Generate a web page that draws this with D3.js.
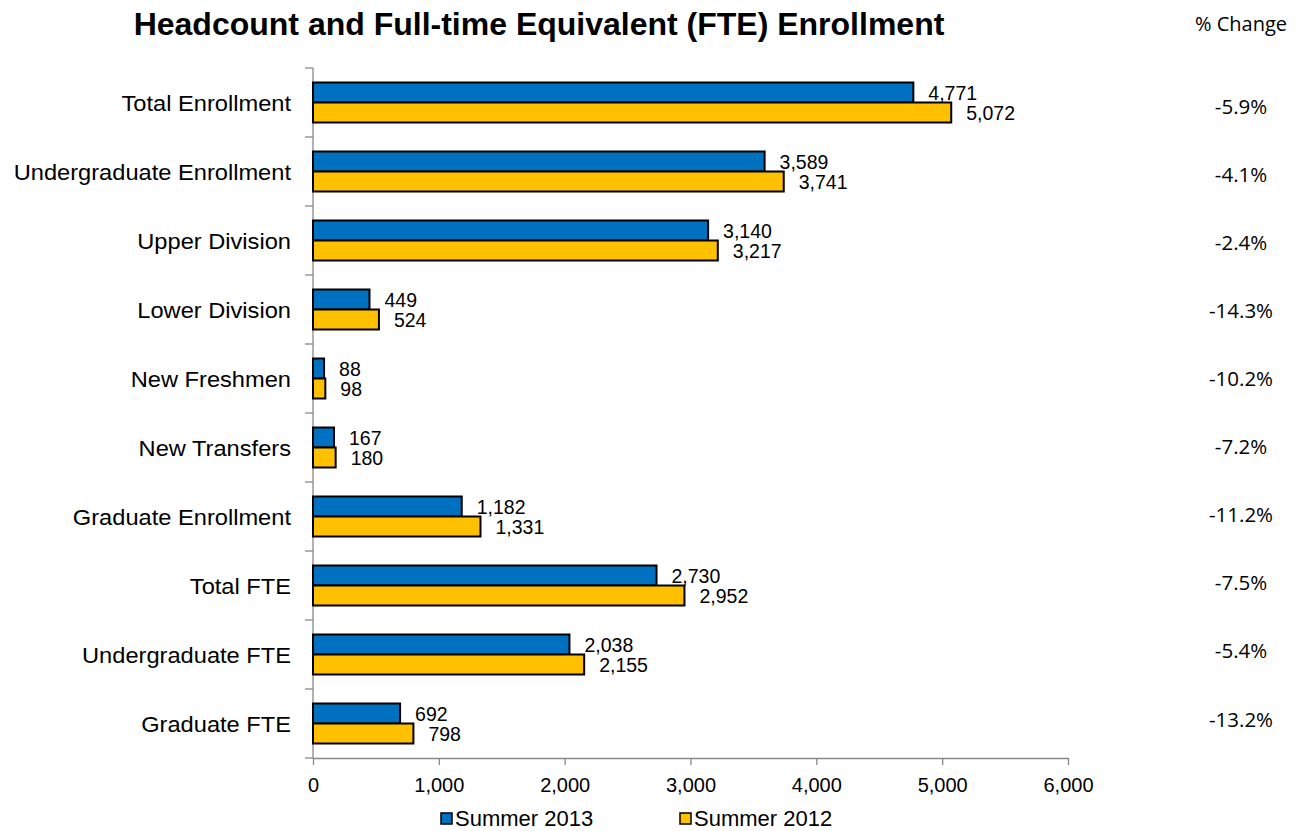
<!DOCTYPE html>
<html>
<head>
<meta charset="utf-8">
<script src="https://cdn.jsdelivr.net/npm/d3@7"></script>
<style>
  body { margin: 0; background: #fff; }
  text { font-family: "Liberation Sans", Arial, sans-serif; fill: #000; }
  .calibri { font-family: "Open Sans", "Noto Sans", sans-serif; }
</style>
</head>
<body>
<svg id="screen" width="1302" height="831"></svg>
<script>
const categories = ["Total Enrollment", "Undergraduate Enrollment", "Upper Division", "Lower Division",
  "New Freshmen", "New Transfers", "Graduate Enrollment", "Total FTE", "Undergraduate FTE", "Graduate FTE"];
const summer2013 = [4771, 3589, 3140, 449, 88, 167, 1182, 2730, 2038, 692];
const summer2012 = [5072, 3741, 3217, 524, 98, 180, 1331, 2952, 2155, 798];
const pctChange = ["-5.9%", "-4.1%", "-2.4%", "-14.3%", "-10.2%", "-7.2%", "-11.2%", "-7.5%", "-5.4%", "-13.2%"];
const xTicks = [0, 1000, 2000, 3000, 4000, 5000, 6000];
const seriesNames = ["Summer 2013", "Summer 2012"];
const colors = ["#0070C0", "#FFC000"];

const svg = d3.select("#screen");
const fmt = d3.format(",");

const x = d3.scaleLinear().domain([0, 6000]).range([313, 1068]);
const y = d3.scaleBand().domain(categories).range([68, 758]);
const inner = d3.scaleBand().domain([0, 1]).range([0, 40]);
const pad = (y.bandwidth() - 40) / 2;
// the % column sits on its own slightly tighter grid
const yPct = d3.scalePoint().domain(categories).range([106, 719]);

// title
svg.append("text").text("Headcount and Full-time Equivalent (FTE) Enrollment")
  .attr("x", 539).attr("y", 35).attr("text-anchor", "middle")
  .attr("font-size", 32).attr("font-weight", "bold");

svg.append("text").text("% Change").attr("class", "calibri")
  .attr("x", 1287).attr("y", 31).attr("text-anchor", "end").attr("font-size", 20);

// y axis line + ticks
svg.append("line").attr("x1", 313).attr("x2", 313).attr("y1", 68).attr("y2", 758)
  .attr("stroke", "#888").attr("stroke-width", 1.3);
svg.selectAll(".ytick").data(d3.range(categories.length + 1)).enter().append("line")
  .attr("x1", 305).attr("x2", 313)
  .attr("y1", i => 68 + i * y.bandwidth()).attr("y2", i => 68 + i * y.bandwidth())
  .attr("stroke", "#888").attr("stroke-width", 1.3);

// x axis
const xAxis = svg.append("g").attr("transform", "translate(0,758)")
  .call(d3.axisBottom(x).tickValues(xTicks).tickFormat(fmt).tickSize(7).tickSizeOuter(0));
xAxis.select(".domain").attr("stroke", "#888").attr("stroke-width", 1.3);
xAxis.selectAll(".tick line").attr("stroke", "#888").attr("stroke-width", 1.3);
xAxis.selectAll(".tick text").attr("font-size", 20).attr("y", 34).attr("dy", null)
  .attr("font-family", "Liberation Sans, Arial, sans-serif").attr("fill", "#000");

// category labels (reference type is a little wider than Arial)
svg.selectAll(".cat").data(categories).enter().append("text")
  .text(d => d)
  .attr("transform", d => `translate(291,${y(d) + y.bandwidth() / 2 + 8}) scale(1.1,1)`)
  .attr("text-anchor", "end").attr("font-size", 21.5);

// bars
const series = [summer2013, summer2012];
series.forEach((vals, s) => {
  svg.selectAll(".bar" + s).data(vals).enter().append("rect")
    .attr("x", x(0))
    .attr("y", (d, i) => y(categories[i]) + pad + inner(s))
    .attr("width", d => x(d) - x(0))
    .attr("height", inner.bandwidth())
    .attr("fill", colors[s]).attr("stroke", "#000").attr("stroke-width", 2);

  svg.selectAll(".lbl" + s).data(vals).enter().append("text")
    .text(d => fmt(d))
    .attr("x", d => x(d) + 15)
    .attr("y", (d, i) => y(categories[i]) + pad + inner(s) + inner.bandwidth() / 2 + 7.5)
    .attr("font-size", 19.5);
});

// % change column
svg.selectAll(".pct").data(pctChange).enter().append("text").attr("class", "calibri")
  .text(d => d).attr("x", 1241).attr("text-anchor", "middle")
  .attr("y", (d, i) => yPct(categories[i]) + 7.5)
  .attr("font-size", 20.5);

// legend
const legendX = [441, 680];
seriesNames.forEach((n, s) => {
  svg.append("rect").attr("x", legendX[s]).attr("y", 813).attr("width", 11).attr("height", 11)
    .attr("fill", colors[s]).attr("stroke", "#000").attr("stroke-width", 1.5);
  svg.append("text").text(n).attr("x", legendX[s] + 14).attr("y", 826).attr("font-size", 22);
});
</script>
</body>
</html>
